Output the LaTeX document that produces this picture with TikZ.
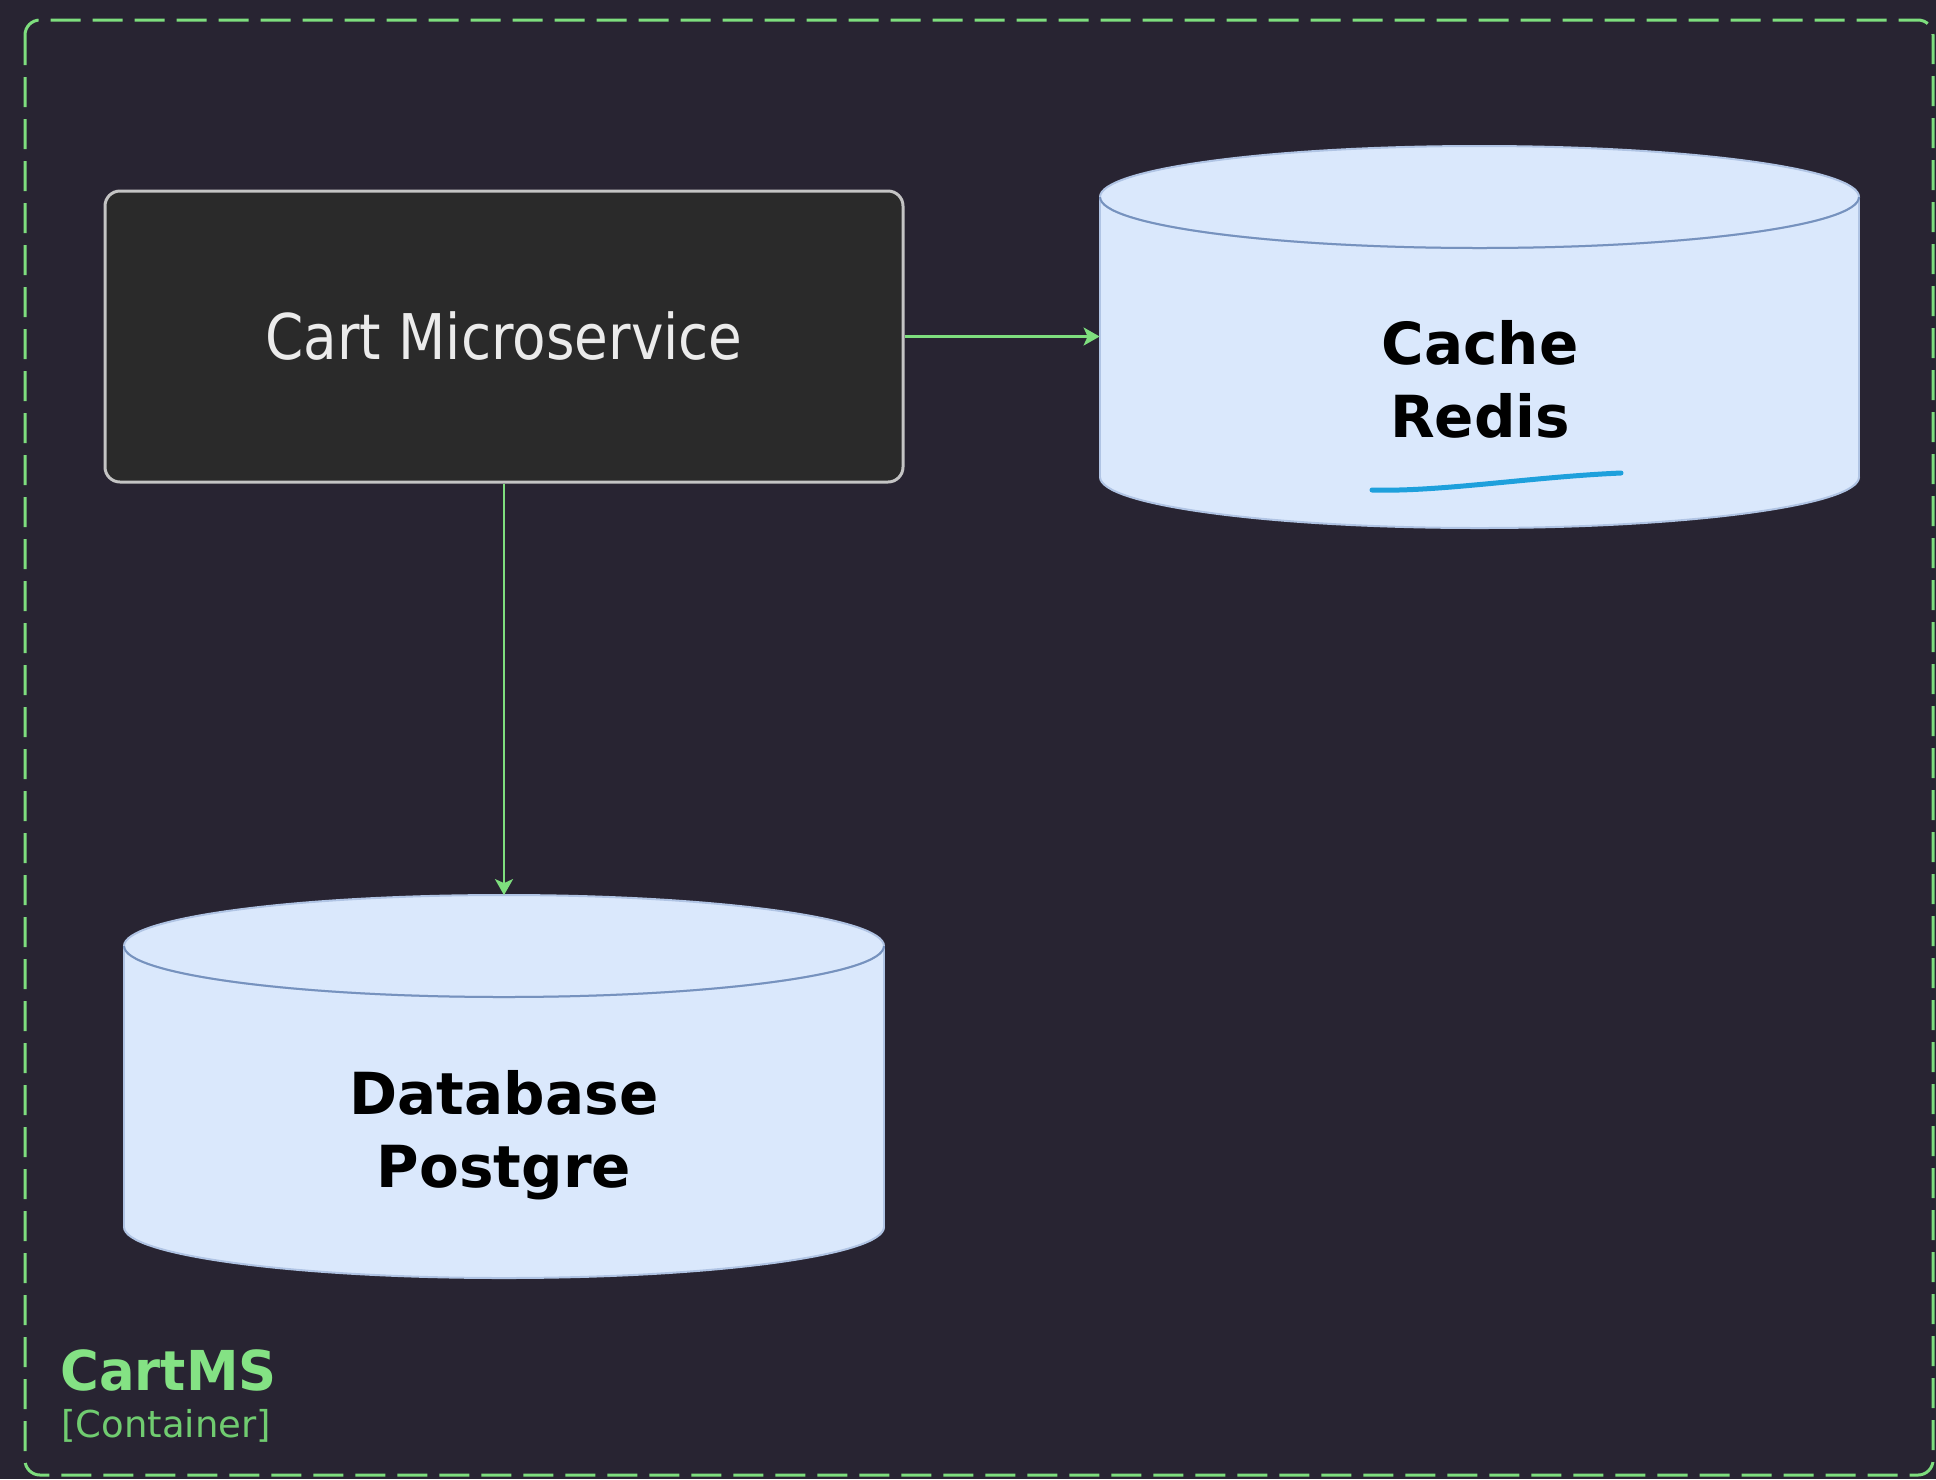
\documentclass[tikz,border=0pt]{standalone}
\usepackage{fontspec}
\setmainfont{DejaVu Sans}
\usetikzlibrary{arrows.meta}
\definecolor{bgc}{RGB}{40,36,50}
\definecolor{grn}{RGB}{126,222,126}
\definecolor{grnlbl}{RGB}{132,226,132}
\definecolor{grndim}{RGB}{112,204,112}
\definecolor{cylfill}{RGB}{218,232,252}
\definecolor{cyldraw}{RGB}{118,146,190}
\definecolor{cylout}{RGB}{176,196,228}
\definecolor{boxfill}{RGB}{42,42,42}
\definecolor{boxdraw}{RGB}{196,196,196}
\definecolor{scrib}{RGB}{30,160,220}
\begin{document}
\begin{tikzpicture}[x=0.5pt,y=-0.5pt,
  frame/.style={draw=grn,line width=1.5pt,rounded corners=7.5pt,dash pattern=on 15pt off 6pt},
  svcbox/.style={draw=boxdraw,fill=boxfill,line width=1.5pt,rounded corners=7.5pt,
    minimum width=399pt,minimum height=145.5pt,inner sep=0pt,text=white!92!black,
    font=\fontsize{31.5pt}{38pt}\selectfont},
  holder/.style={inner sep=0pt,minimum width=379.5pt,minimum height=191pt},
  dblabel/.style={align=center,font=\bfseries\fontsize{29pt}{36.5pt}\selectfont,text=black},
  arr/.style={draw=grn,line width=1.25pt,-{Stealth[length=8pt,width=9pt,inset=2pt]}},
  cylo/.style={draw=cylout,fill=cylfill,line width=1pt},
  cyli/.style={draw=cyldraw,line width=1pt}]
\fill[bgc] (0,0) rectangle (1936,1479);
\useasboundingbox (0,0) rectangle (1936,1479);
\draw[frame] (25,20) rectangle (1933,1475);

% Cache cylinder
\draw[cylo] (1479.5,477) ellipse[x radius=379.5,y radius=51];
\fill[cylfill] (1100,197) rectangle (1859,477);
\draw[draw=cylout,line width=1pt] (1100,197) -- (1100,477) (1859,197) -- (1859,477);
\draw[cylo] (1479.5,197) ellipse[x radius=379.5,y radius=51];
\begin{scope}
\clip (1090,197) rectangle (1870,260);
\draw[cyli] (1479.5,197) ellipse[x radius=379.5,y radius=51];
\end{scope}
\node[holder] (cache) at (1479.5,336.5) {};
\node[dblabel] (cachelbl) at (1480,379) {Cache\\Redis};
\draw[scrib,line width=2.5pt,line cap=round] (1372,490) .. controls (1440,492) and (1530,477) .. (1621,473);

% Database cylinder
\draw[cylo] (504,1227) ellipse[x radius=380,y radius=51];
\fill[cylfill] (124,946) rectangle (884,1227);
\draw[draw=cylout,line width=1pt] (124,946) -- (124,1227) (884,946) -- (884,1227);
\draw[cylo] (504,946) ellipse[x radius=380,y radius=51];
\begin{scope}
\clip (114,946) rectangle (894,1010);
\draw[cyli] (504,946) ellipse[x radius=380,y radius=51];
\end{scope}
\node[holder,minimum width=380pt] (db) at (504,1086.5) {};
\node[dblabel] (dblbl) at (504,1135) {Database\\Postgre};

% Service box
\node[svcbox] (cart) at (504,336.5) {\scalebox{0.87}[1]{Cart Microservice}};

% Connectors
\draw[arr] (cart.east) -- (cache.west);
\draw[arr] (cart.south) -- (db.north);

% Container label
\node[anchor=base west,inner sep=0pt,text=grnlbl,font=\bfseries\fontsize{27.5pt}{33pt}\selectfont] (ms) at (60,1390) {\scalebox{0.96}[1]{CartMS}};
\node[anchor=base west,inner sep=0pt,text=grndim,font=\fontsize{18.5pt}{22pt}\selectfont] (ctype) at (61,1437) {[Container]};
\end{tikzpicture}
\end{document}
